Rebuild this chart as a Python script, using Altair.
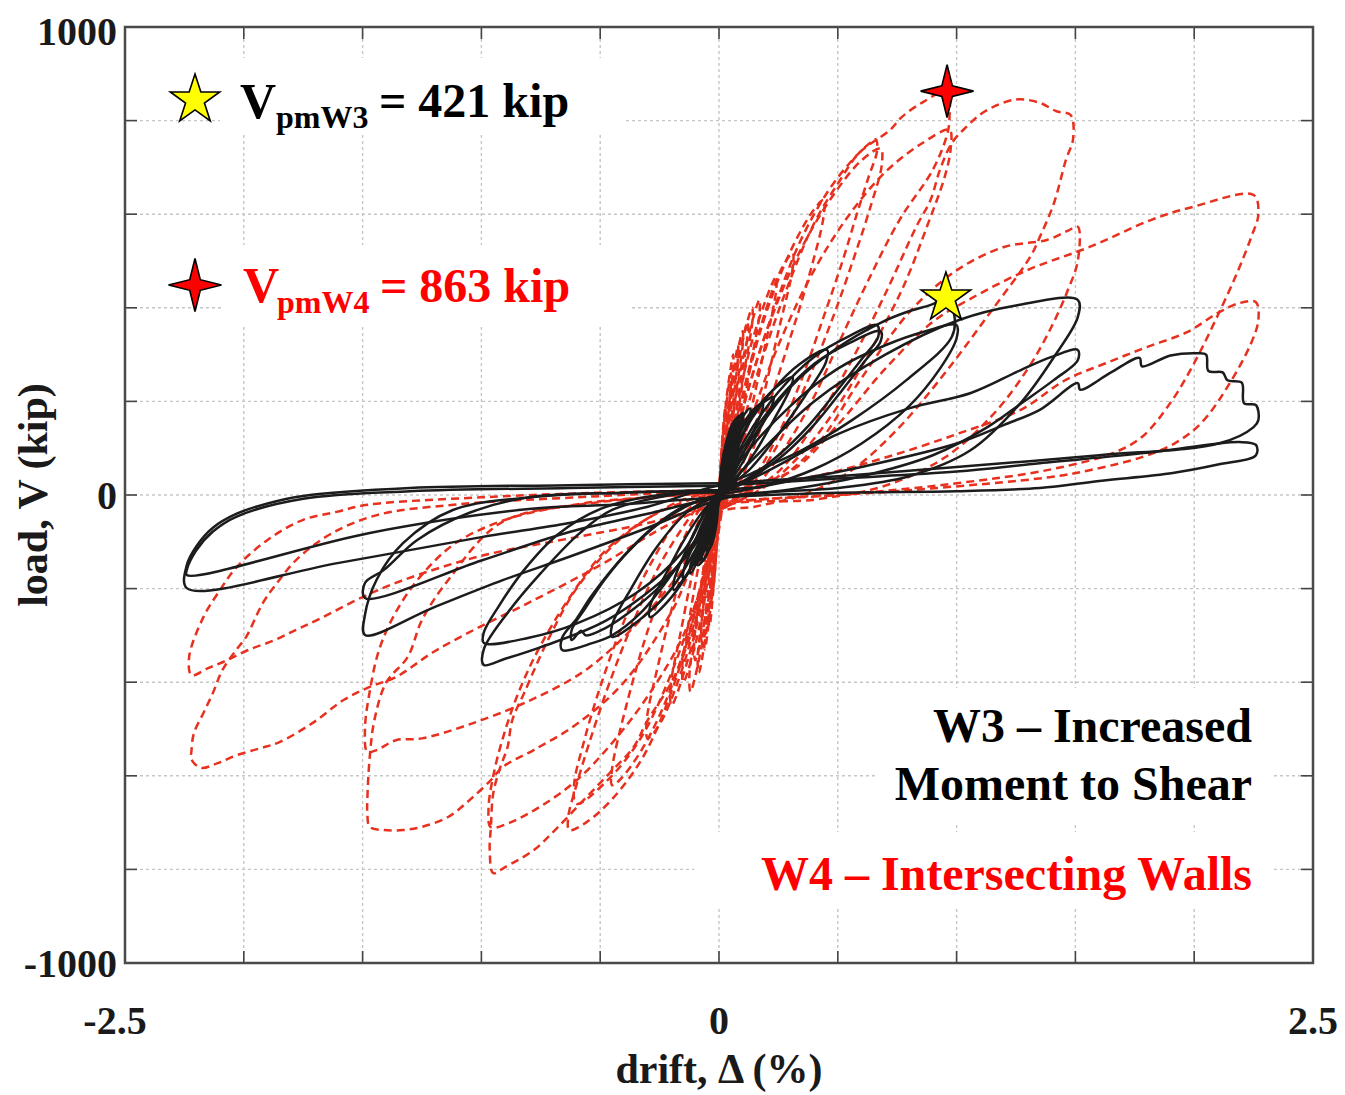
import altair as alt
import pandas as pd

# ---------------- data: (drift %, load kip) ----------------
# W3 - Increased Moment to Shear (black, solid)
w3_c01 = [(0.00, 0), (0.01, 45), (0.02, 75), (0.03, 90), (0.03, 78), (0.02, 45), (0.01, 15), (0.00, 0), (-0.01, -40), (-0.02, -65), (-0.03, -80), (-0.03, -68), (-0.02, -38), (-0.01, -10), (0.00, 0)]
w3_c02 = [(0.00, 0), (0.02, 70), (0.04, 115), (0.06, 140), (0.06, 124), (0.04, 75), (0.02, 30), (0.00, 5), (-0.02, -55), (-0.04, -95), (-0.06, -120), (-0.06, -104), (-0.04, -60), (-0.02, -20), (0.00, 0)]
w3_c03 = [(0.00, 0), (0.03, 80), (0.06, 140), (0.10, 175), (0.10, 158), (0.07, 100), (0.04, 45), (0.01, 10), (-0.03, -60), (-0.06, -110), (-0.10, -150), (-0.10, -134), (-0.07, -80), (-0.03, -25), (0.00, 0)]
w3_c04 = [(0.00, 0), (0.05, 90), (0.10, 150), (0.15, 185), (0.185, 197), (0.18, 178), (0.13, 120), (0.08, 65), (0.03, 20), (0.00, 0), (-0.04, -70), (-0.09, -130), (-0.15, -180), (-0.15, -163), (-0.11, -110), (-0.06, -50), (-0.02, -10), (0.00, 0)]
w3_c05 = [(0.00, 0), (0.06, 100), (0.12, 160), (0.18, 195), (0.23, 209), (0.22, 188), (0.16, 130), (0.10, 70), (0.04, 25), (0.00, 5), (-0.05, -80), (-0.10, -140), (-0.15, -180), (-0.19, -203), (-0.19, -184), (-0.14, -120), (-0.08, -55), (-0.03, -15), (0.00, 0)]
w3_c06 = [(0.00, 0), (0.08, 110), (0.16, 185), (0.24, 230), (0.31, 252), (0.30, 228), (0.23, 160), (0.15, 90), (0.07, 35), (0.00, 5), (-0.07, -100), (-0.14, -175), (-0.22, -230), (-0.29, -261), (-0.29, -238), (-0.22, -165), (-0.14, -90), (-0.06, -30), (0.00, 0)]
w3_c07 = [(0.00, 0), (0.10, 130), (0.22, 220), (0.34, 280), (0.455, 310), (0.45, 284), (0.36, 210), (0.25, 130), (0.13, 55), (0.03, 10), (-0.08, -100), (-0.20, -200), (-0.33, -265), (-0.45, -303), (-0.45, -278), (-0.37, -200), (-0.26, -110), (-0.13, -35), (0.00, 0)]
w3_c08 = [(0.00, 0), (0.10, 110), (0.25, 220), (0.40, 295), (0.55, 340), (0.665, 363), (0.67, 338), (0.60, 290), (0.50, 225), (0.38, 150), (0.25, 85), (0.12, 35), (0.02, 5), (-0.08, -80), (-0.20, -170), (-0.33, -252), (-0.45, -300), (-0.53, -316), (-0.66, -331), (-0.66, -305), (-0.60, -265), (-0.54, -218), (-0.46, -165), (-0.39, -124), (-0.28, -70), (-0.15, -25), (0.00, 0)]
w3_c09 = [(0.00, 0), (0.10, 100), (0.25, 205), (0.40, 280), (0.55, 325), (0.68, 350), (0.68, 328), (0.62, 290), (0.52, 225), (0.40, 150), (0.27, 85), (0.13, 35), (0.02, 5), (-0.10, -100), (-0.22, -180), (-0.35, -240), (-0.48, -285), (-0.56, -300), (-0.58, -290), (-0.62, -310), (-0.62, -288), (-0.56, -240), (-0.48, -180), (-0.38, -120), (-0.25, -60), (-0.12, -20), (0.00, 0)]
w3_c10 = [(0.00, 0), (0.10, 90), (0.30, 230), (0.50, 315), (0.68, 368), (0.79, 391), (0.90, 408), (0.955, 421), (0.99, 385), (0.98, 338), (0.79, 246), (0.56, 160), (0.35, 96), (0.14, 47), (0.00, 10), (-0.08, -90), (-0.19, -160), (-0.47, -267), (-0.75, -325), (-0.90, -350), (-0.99, -363), (-0.99, -330), (-0.89, -252), (-0.75, -167), (-0.585, -81), (-0.45, -32), (-0.20, 0), (0.00, 10)]
w3_c11 = [(0.00, 0), (0.10, 80), (0.30, 190), (0.50, 270), (0.70, 320), (0.87, 350), (1.00, 363), (1.00, 335), (0.93, 270), (0.80, 190), (0.60, 110), (0.40, 55), (0.20, 20), (0.00, 0), (-0.15, -120), (-0.35, -210), (-0.60, -275), (-0.80, -305), (-0.99, -316), (-0.99, -294), (-0.93, -240), (-0.82, -160), (-0.68, -85), (-0.50, -30), (-0.25, 0), (0.00, 5)]
w3_c12 = [(0.00, 0), (0.15, 80), (0.40, 200), (0.70, 300), (1.01, 374), (1.25, 405), (1.51, 417), (1.51, 380), (1.41, 295), (1.27, 197), (1.06, 96), (0.80, 40), (0.50, 15), (0.20, 5), (0.00, -10), (-0.30, -70), (-0.63, -132), (-0.91, -182), (-1.20, -240), (-1.49, -299), (-1.49, -256), (-1.44, -180), (-1.33, -103), (-1.12, -32), (-0.77, -4), (-0.40, 5), (0.00, 10)]
w3_c13 = [(0.00, 0), (0.20, 50), (0.50, 130), (0.80, 185), (1.06, 218), (1.27, 267), (1.40, 295), (1.51, 310), (1.51, 288), (1.41, 246), (1.27, 195), (1.13, 145), (0.90, 85), (0.60, 40), (0.30, 12), (0.00, -5), (-0.30, -40), (-0.63, -79), (-1.00, -140), (-1.49, -220), (-1.49, -188), (-1.41, -160), (-1.27, -96), (-1.05, -38), (-0.80, -5), (-0.40, 5), (0.00, 10)]
w3_c14 = [(0.00, 0), (0.30, 30), (0.60, 60), (1.00, 110), (1.20, 150), (1.35, 182), (1.51, 239), (1.52, 225), (1.65, 262), (1.77, 293), (1.78, 275), (1.90, 298), (2.01, 303), (2.05, 300), (2.06, 265), (2.12, 262), (2.14, 245), (2.20, 240), (2.21, 196), (2.26, 192), (2.27, 160), (2.25, 145), (2.11, 111), (1.60, 85), (1.00, 60), (0.50, 40), (0.00, 20), (-0.30, -25), (-0.63, -60), (-1.00, -90), (-1.60, -145), (-2.24, -199), (-2.24, -150), (-2.20, -110), (-2.13, -70), (-2.03, -40), (-1.90, -18), (-1.75, -2), (-1.30, 15), (-0.63, 21), (0.00, 25)]
w3_c15 = [(0.00, 20), (0.50, 35), (1.00, 50), (1.35, 68), (1.80, 90), (2.19, 113), (2.26, 107), (2.26, 85), (2.10, 65), (1.91, 47), (1.60, 30), (1.35, 15), (1.00, 8), (0.50, 5), (0.00, -5), (-0.40, -20), (-0.80, -30), (-1.47, -81), (-2.24, -171), (-2.24, -160), (-2.20, -118), (-2.13, -78), (-2.03, -46), (-1.75, -8), (-1.30, 8), (-0.63, 15), (0.00, 20)]
w3_c16 = [(0.00, 0), (0.015, 60), (0.03, 100), (0.045, 125), (0.045, 110), (0.03, 65), (0.015, 25), (0.00, 0), (-0.015, -50), (-0.03, -85), (-0.045, -105), (-0.045, -92), (-0.03, -55), (-0.015, -15), (0.00, 0)]
w3_c17 = [(0.00, 0), (0.03, 90), (0.06, 135), (0.08, 160), (0.08, 145), (0.055, 95), (0.03, 40), (0.00, 5), (-0.03, -70), (-0.06, -115), (-0.08, -140), (-0.08, -125), (-0.055, -75), (-0.025, -25), (0.00, 0)]
w3_c18 = [(0.00, 0), (0.04, 95), (0.08, 150), (0.13, 185), (0.13, 168), (0.09, 115), (0.05, 55), (0.01, 10), (-0.04, -80), (-0.08, -130), (-0.12, -168), (-0.12, -150), (-0.08, -95), (-0.04, -35), (0.00, 0)]
w3_c19 = [(0.00, 0), (0.02, 85), (0.05, 140), (0.07, 155), (0.07, 135), (0.05, 70), (0.02, 15), (0.00, -10), (-0.02, -80), (-0.05, -125), (-0.07, -140), (-0.07, -120), (-0.05, -60), (-0.02, -5), (0.00, 0)]
w3_c20 = [(0.00, 0), (0.03, 110), (0.06, 155), (0.09, 170), (0.09, 150), (0.06, 80), (0.03, 20), (0.00, -15), (-0.03, -95), (-0.06, -135), (-0.09, -150), (-0.09, -130), (-0.06, -65), (-0.03, -10), (0.00, 0)]
w3_c21 = [(0.00, 0), (0.01, 60), (0.03, 110), (0.05, 130), (0.05, 112), (0.03, 50), (0.01, 5), (0.00, -10), (-0.01, -60), (-0.03, -105), (-0.05, -120), (-0.05, -100), (-0.03, -45), (-0.01, 0), (0.00, 0)]

# W4 - Intersecting Walls (red, dashed)
w4_c01 = [(0.00, 0), (0.01, 90), (0.02, 160), (0.03, 200), (0.03, 180), (0.02, 100), (0.01, 20), (0.00, -20), (-0.01, -110), (-0.02, -180), (-0.03, -220), (-0.03, -200), (-0.02, -120), (-0.01, -30), (0.00, 0)]
w4_c02 = [(0.00, 0), (0.01, 80), (0.03, 190), (0.05, 260), (0.05, 235), (0.035, 150), (0.02, 50), (0.00, -20), (-0.01, -110), (-0.025, -210), (-0.04, -280), (-0.045, -255), (-0.03, -160), (-0.015, -50), (0.00, 10)]
w4_c03 = [(0.00, -10), (0.02, 90), (0.05, 220), (0.08, 320), (0.08, 295), (0.06, 200), (0.035, 80), (0.01, -10), (-0.01, -100), (-0.04, -230), (-0.07, -320), (-0.075, -290), (-0.055, -190), (-0.03, -70), (0.00, 10)]
w4_c04 = [(0.00, -10), (0.03, 100), (0.07, 250), (0.12, 370), (0.12, 340), (0.09, 240), (0.05, 100), (0.02, 0), (-0.01, -90), (-0.05, -240), (-0.10, -353), (-0.105, -320), (-0.08, -210), (-0.04, -80), (0.00, 10)]
w4_c05 = [(0.00, -10), (0.04, 110), (0.10, 290), (0.17, 417), (0.17, 385), (0.13, 270), (0.08, 120), (0.03, 0), (0.00, -40), (-0.05, -190), (-0.10, -320), (-0.15, -400), (-0.155, -370), (-0.12, -250), (-0.07, -110), (-0.02, 0), (0.00, 10)]
w4_c06 = [(0.00, -10), (0.05, 120), (0.14, 330), (0.24, 466), (0.24, 435), (0.19, 310), (0.12, 150), (0.05, 20), (0.00, -40), (-0.06, -200), (-0.13, -350), (-0.20, -450), (-0.205, -415), (-0.16, -290), (-0.10, -140), (-0.04, -20), (0.00, 10)]
w4_c07 = [(0.00, -10), (0.06, 130), (0.17, 350), (0.26, 480), (0.31, 517), (0.31, 485), (0.25, 350), (0.17, 180), (0.08, 40), (0.00, -40), (-0.07, -210), (-0.16, -380), (-0.25, -490), (-0.30, -520), (-0.305, -485), (-0.25, -350), (-0.17, -190), (-0.08, -50), (0.00, 10)]
w4_c08 = [(0.00, -10), (0.07, 140), (0.18, 360), (0.30, 520), (0.40, 610), (0.44, 630), (0.44, 595), (0.38, 470), (0.29, 320), (0.18, 150), (0.08, 20), (0.00, -40), (-0.08, -210), (-0.20, -410), (-0.32, -540), (-0.42, -610), (-0.45, -620), (-0.45, -585), (-0.39, -450), (-0.30, -290), (-0.19, -140), (-0.08, -30), (0.00, 10)]
w4_c09 = [(0.00, -20), (0.04, 60), (0.12, 220), (0.22, 380), (0.34, 540), (0.46, 650), (0.56, 715), (0.63, 750), (0.66, 760), (0.665, 735), (0.63, 680), (0.58, 600), (0.52, 500), (0.44, 380), (0.35, 250), (0.25, 130), (0.15, 40), (0.06, -10), (0.00, -30), (-0.02, -80), (-0.10, -250), (-0.20, -420), (-0.32, -560), (-0.45, -650), (-0.56, -700), (-0.63, -716), (-0.635, -690), (-0.60, -620), (-0.54, -520), (-0.46, -400), (-0.36, -270), (-0.25, -150), (-0.14, -60), (-0.05, 0), (0.00, 20)]
w4_c10 = [(0.00, 10), (0.08, 150), (0.20, 350), (0.34, 520), (0.48, 640), (0.60, 715), (0.68, 740), (0.685, 705), (0.64, 620), (0.57, 510), (0.48, 380), (0.37, 240), (0.25, 110), (0.12, 10), (0.00, -40), (-0.08, -200), (-0.20, -380), (-0.33, -520), (-0.47, -610), (-0.60, -660), (-0.61, -620), (-0.57, -530), (-0.50, -410), (-0.40, -270), (-0.28, -140), (-0.15, -40), (0.00, 10)]
w4_c11 = [(0.00, -10), (0.06, 80), (0.15, 240), (0.27, 420), (0.40, 580), (0.51, 673), (0.59, 731), (0.72, 780), (0.77, 808), (0.86, 840), (0.96, 863), (0.97, 806), (0.96, 770), (0.90, 695), (0.76, 588), (0.62, 450), (0.50, 320), (0.38, 190), (0.25, 80), (0.12, 0), (0.00, -40), (-0.05, -170), (-0.12, -300), (-0.20, -400), (-0.30, -481), (-0.36, -539), (-0.46, -594), (-0.57, -652), (-0.69, -716), (-0.78, -759), (-0.90, -795), (-0.95, -808), (-0.965, -760), (-0.96, -709), (-0.95, -637), (-0.92, -581), (-0.89, -539), (-0.87, -481), (-0.82, -423), (-0.72, -310), (-0.60, -200), (-0.45, -110), (-0.30, -50), (-0.15, -10), (0.00, 10)]
w4_c12 = [(0.00, 10), (0.10, 120), (0.25, 320), (0.40, 480), (0.55, 600), (0.70, 690), (0.85, 750), (0.97, 780), (0.975, 740), (0.95, 680), (0.88, 580), (0.78, 450), (0.65, 320), (0.50, 190), (0.35, 90), (0.20, 20), (0.05, -20), (0.00, -30), (-0.05, -150), (-0.15, -300), (-0.30, -430), (-0.45, -530), (-0.60, -610), (-0.75, -665), (-0.88, -700), (-0.96, -710), (-0.97, -670), (-0.95, -600), (-0.91, -520), (-0.85, -430), (-0.76, -330), (-0.63, -220), (-0.48, -120), (-0.30, -50), (-0.12, -10), (0.00, 5)]
w4_c13 = [(0.00, -10), (0.10, 0), (0.25, 50), (0.40, 150), (0.55, 280), (0.70, 430), (0.83, 573), (0.89, 630), (0.93, 695), (0.98, 752), (1.04, 786), (1.12, 820), (1.25, 845), (1.35, 838), (1.42, 820), (1.48, 812), (1.49, 760), (1.46, 716), (1.41, 624), (1.35, 551), (1.31, 509), (1.14, 389), (0.95, 260), (0.75, 140), (0.55, 50), (0.35, 0), (0.15, -25), (0.00, -40), (-0.20, -250), (-0.40, -400), (-0.60, -490), (-0.78, -545), (-0.91, -581), (-0.96, -609), (-1.05, -652), (-1.14, -688), (-1.25, -709), (-1.33, -716), (-1.41, -716), (-1.47, -709), (-1.48, -680), (-1.48, -650), (-1.47, -560), (-1.45, -480), (-1.40, -400), (-1.31, -346), (-1.25, -267), (-1.14, -182), (-0.92, -60), (-0.60, -20), (-0.30, -5), (0.00, 5)]
w4_c14 = [(0.00, 5), (0.20, 20), (0.40, 100), (0.60, 250), (0.80, 390), (1.00, 480), (1.20, 530), (1.38, 545), (1.47, 565), (1.51, 573), (1.51, 500), (1.47, 440), (1.40, 360), (1.30, 270), (1.15, 170), (0.95, 80), (0.70, 20), (0.40, -10), (0.00, -30), (-0.10, -120), (-0.30, -250), (-0.55, -370), (-0.80, -440), (-1.05, -490), (-1.25, -520), (-1.36, -524), (-1.44, -545), (-1.48, -549), (-1.49, -500), (-1.47, -420), (-1.43, -330), (-1.36, -250), (-1.25, -170), (-1.10, -100), (-0.85, -45), (-0.50, -15), (0.00, 5)]
w4_c15 = [(0.00, 5), (0.30, 50), (0.50, 150), (0.70, 270), (0.90, 370), (1.05, 417), (1.30, 481), (1.56, 530), (1.82, 588), (1.99, 615), (2.25, 641), (2.27, 600), (2.24, 551), (2.18, 474), (2.09, 374), (2.00, 282), (1.90, 197), (1.78, 124), (1.66, 90), (1.40, 55), (1.00, 25), (0.50, 0), (0.00, -20), (-0.20, -60), (-0.50, -150), (-0.80, -230), (-1.00, -280), (-1.20, -335), (-1.36, -389), (-1.47, -410), (-1.58, -438), (-1.71, -487), (-1.85, -528), (-1.93, -541), (-2.03, -556), (-2.11, -573), (-2.18, -583), (-2.22, -565), (-2.22, -545), (-2.21, -509), (-2.17, -466), (-2.13, -423), (-2.09, -374), (-2.03, -330), (-1.99, -303), (-1.92, -231), (-1.86, -188), (-1.78, -139), (-1.64, -85), (-1.44, -43), (-1.10, -20), (-0.60, -5), (0.00, 10)]
w4_c16 = [(0.00, 10), (0.40, 40), (0.70, 80), (1.00, 130), (1.27, 182), (1.46, 246), (1.63, 282), (1.80, 316), (1.97, 348), (2.10, 389), (2.19, 410), (2.26, 412), (2.27, 374), (2.24, 325), (2.14, 231), (2.03, 154), (1.92, 111), (1.78, 81), (1.56, 53), (1.39, 38), (0.80, 10), (0.00, -20), (-0.30, -60), (-0.60, -90), (-1.00, -130), (-1.33, -182), (-1.50, -218), (-1.69, -267), (-1.78, -288), (-1.87, -310), (-1.98, -331), (-2.07, -353), (-2.15, -370), (-2.22, -385), (-2.23, -346), (-2.17, -261), (-2.10, -203), (-2.03, -154), (-1.90, -96), (-1.75, -53), (-1.61, -36), (-1.48, -21), (-1.00, -5), (-0.50, 5), (0.00, 10)]
w4_c17 = [(0.00, -10), (0.015, 120), (0.04, 240), (0.06, 300), (0.06, 275), (0.045, 180), (0.02, 60), (0.00, -30), (-0.015, -140), (-0.04, -260), (-0.06, -330), (-0.065, -300), (-0.045, -200), (-0.02, -70), (0.00, 10)]
w4_c18 = [(0.00, -10), (0.02, 110), (0.06, 260), (0.10, 350), (0.10, 322), (0.075, 230), (0.04, 90), (0.01, -20), (-0.015, -130), (-0.05, -280), (-0.085, -380), (-0.09, -350), (-0.065, -240), (-0.03, -90), (0.00, 10)]
w4_c19 = [(0.00, -10), (0.035, 130), (0.08, 290), (0.14, 400), (0.14, 370), (0.105, 260), (0.06, 110), (0.02, -10), (-0.02, -140), (-0.06, -290), (-0.12, -420), (-0.125, -390), (-0.095, -270), (-0.05, -110), (0.00, 10)]

w3_cycles = [w3_c01, w3_c02, w3_c03, w3_c04, w3_c05, w3_c06, w3_c07, w3_c08, w3_c09, w3_c10, w3_c11,
             w3_c12, w3_c13, w3_c14, w3_c15, w3_c16, w3_c17, w3_c18, w3_c19, w3_c20, w3_c21]
w4_cycles = [w4_c01, w4_c02, w4_c03, w4_c04, w4_c05, w4_c06, w4_c07, w4_c08, w4_c09, w4_c10,
             w4_c11, w4_c12, w4_c13, w4_c14, w4_c15, w4_c16, w4_c17, w4_c18, w4_c19]

# peak-strength markers (drift %, kip)
peak_w3 = [0.955, 421]
peak_w4 = [0.96, 863]

x_grid = [-2.0, -1.5, -1.0, -0.5, 0.0, 0.5, 1.0, 1.5, 2.0]
y_grid = [-800, -600, -400, -200, 0, 200, 400, 600, 800]
x_labels = [-2.5, 0, 2.5]
y_labels = [-1000, 0, 1000]

# ---------------- build ----------------
def cycles_df(cycles, prefix):
    rows = []
    for k, cyc in enumerate(cycles):
        for i, (dx, v) in enumerate(cyc):
            rows.append({"loop": f"{prefix}{k:02d}", "seq": i, "drift": float(dx), "load": float(v)})
    return pd.DataFrame(rows)

def fmt(v):
    return ("-" if v < 0 else "") + f"{abs(v):g}"

df3 = cycles_df(w3_cycles, "a")
df4 = cycles_df(w4_cycles, "b")

W, H = 1188, 936
SERIF = "Liberation Serif"
RED_TXT = "#ff0000"
RED_LINE = "#e8301f"

xs = alt.Scale(domain=[-2.5, 2.5], nice=False, zero=False)
ys = alt.Scale(domain=[-1000, 1000], nice=False, zero=False)

one = pd.DataFrame({"k": [0]})
gx = pd.DataFrame({"v": x_grid})
gy = pd.DataFrame({"v": y_grid})

grid_x = alt.Chart(gx).mark_rule(color="#c6c6c6", strokeWidth=1.4, strokeDash=[3, 3]).encode(
    x=alt.X("v:Q", scale=xs, axis=None))
grid_y = alt.Chart(gy).mark_rule(color="#c6c6c6", strokeWidth=1.4, strokeDash=[3, 3]).encode(
    y=alt.Y("v:Q", scale=ys, axis=None))

def tick_x(y0, y1):
    return alt.Chart(gx).mark_rule(color="#444444", strokeWidth=1.6).encode(
        x=alt.X("v:Q", scale=xs, axis=None), y=alt.value(y0), y2=alt.value(y1))

def tick_y(x0, x1):
    return alt.Chart(gy).mark_rule(color="#444444", strokeWidth=1.6).encode(
        y=alt.Y("v:Q", scale=ys, axis=None), x=alt.value(x0), x2=alt.value(x1))

TICKFONT = dict(font=SERIF, fontSize=40, fontWeight="bold", color="#1a1a1a", baseline="alphabetic")

def xlab(vals, dx):
    d = pd.DataFrame({"v": vals, "t": [fmt(v) for v in vals]})
    return alt.Chart(d).mark_text(align="center", dx=dx, **TICKFONT).encode(
        x=alt.X("v:Q", scale=xs, axis=None), y=alt.value(1007), text="t:N")

def ylab(vals, dy):
    d = pd.DataFrame({"v": vals, "t": [fmt(v) for v in vals]})
    return alt.Chart(d).mark_text(align="right", dy=dy, **TICKFONT).encode(
        y=alt.Y("v:Q", scale=ys, axis=None), x=alt.value(-8), text="t:N")

tick_labels = [
    xlab([v for v in x_labels if v < 0], -10),
    xlab([v for v in x_labels if v >= 0], 0),
    ylab([v for v in y_labels if v < max(y_labels)], 14),
    ylab([max(y_labels)], 18),
]

def box(x0, x1, y0, y1):
    return alt.Chart(one).mark_rect(color="white", opacity=1).encode(
        x=alt.value(x0), x2=alt.value(x1), y=alt.value(y0), y2=alt.value(y1))

def label(txt, x, y, size, color="#000000", align="left", angle=None):
    kw = dict(font=SERIF, fontSize=size, fontWeight="bold", color=color, align=align, baseline="alphabetic")
    if angle is not None:
        kw["angle"] = angle
    return alt.Chart(pd.DataFrame({"t": [txt]})).mark_text(**kw).encode(
        text="t:N", x=alt.value(x), y=alt.value(y))

red = alt.Chart(df4).mark_line(color=RED_LINE, strokeWidth=2.5, strokeDash=[8, 5],
                               interpolate="catmull-rom").encode(
    x=alt.X("drift:Q", scale=xs, axis=None), y=alt.Y("load:Q", scale=ys, axis=None),
    detail="loop:N", order="seq:Q")
black = alt.Chart(df3).mark_line(color="#1c1c1c", strokeWidth=2.5,
                                 interpolate="catmull-rom").encode(
    x=alt.X("drift:Q", scale=xs, axis=None), y=alt.Y("load:Q", scale=ys, axis=None),
    detail="loop:N", order="seq:Q")

STAR5 = ("M0,-1L0.225,-0.309L0.951,-0.309L0.363,0.118L0.588,0.809L0,0.382"
         "L-0.588,0.809L-0.363,0.118L-0.951,-0.309L-0.225,-0.309Z")
STAR4 = "M0,-1L0.2,-0.2L1,0L0.2,0.2L0,1L-0.2,0.2L-1,0L-0.2,-0.2Z"

def star_style(shape, fill, size):
    return dict(shape=shape, filled=True, fill=fill, stroke="#000000", strokeWidth=1.6,
                size=size, opacity=1)

star_w3 = alt.Chart(pd.DataFrame({"d": [peak_w3[0]], "v": [peak_w3[1]]})).mark_point(
    **star_style(STAR5, "#ffff00", 2700)).encode(
    x=alt.X("d:Q", scale=xs, axis=None), y=alt.Y("v:Q", scale=ys, axis=None))
star_w4 = alt.Chart(pd.DataFrame({"d": [peak_w4[0]], "v": [peak_w4[1]]})).mark_point(
    **star_style(STAR4, "#ff0000", 2800)).encode(
    x=alt.X("d:Q", scale=xs, axis=None), y=alt.Y("v:Q", scale=ys, axis=None))

leg_star3 = alt.Chart(one).mark_point(**star_style(STAR5, "#ffff00", 2700)).encode(
    x=alt.value(70), y=alt.value(73))
leg_star4 = alt.Chart(one).mark_point(**star_style(STAR4, "#ff0000", 2800)).encode(
    x=alt.value(70), y=alt.value(258))

texts = [
    label("V", 115, 91, 50),
    label("pmW3", 151, 101, 32),
    label("= 421 kip", 254, 90, 48),
    label("V", 118, 275, 50, RED_TXT),
    label("pmW4", 152, 286, 32, RED_TXT),
    label("= 863 kip", 255, 275, 48, RED_TXT),
    label("W3 \u2013 Increased", 1127, 715, 48, align="right"),
    label("Moment to Shear", 1127, 773, 48, align="right"),
    label("W4 \u2013 Intersecting Walls", 1127, 863, 48, RED_TXT, align="right"),
    label("drift, \u0394 (%)", 594, 1056, 42, "#1a1a1a", align="center"),
    label("load, V (kip)", -78, 468, 42, "#1a1a1a", align="center", angle=270),
]

layers = [
    grid_x, grid_y,
    box(95, 500, 31, 108), box(97, 505, 218, 298),
    box(752, 1147, 661, 795), box(569, 1147, 805, 881),
    tick_x(0, 12), tick_x(H - 12, H), tick_y(0, 12), tick_y(W - 12, W),
    red, black, star_w3, star_w4, leg_star3, leg_star4,
] + tick_labels + texts

chart = alt.layer(*layers).properties(
    width=W, height=H,
    autosize=alt.AutoSizeParams(type="none"),
    padding={"left": 117, "top": 19, "right": 24, "bottom": 130},
    background="white",
).configure_view(stroke="#4a4a4a", strokeWidth=2.5)

chart.save("out.html", embed_options={"renderer": "svg", "actions": False})
